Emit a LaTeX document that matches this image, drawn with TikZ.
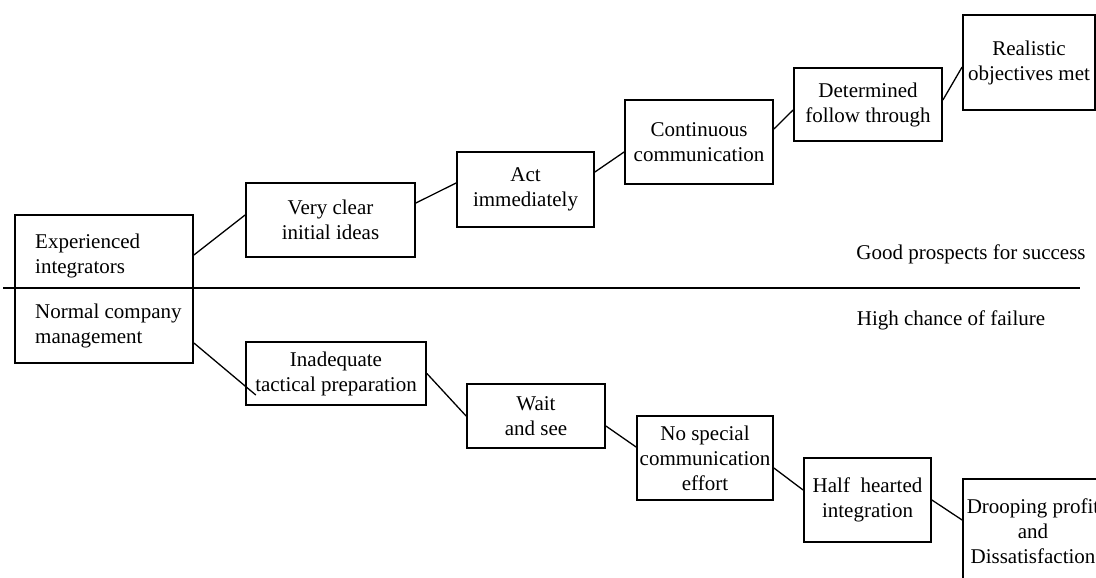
\documentclass[tikz,border=0pt]{standalone}
\usepackage{fontspec}
\setmainfont{Liberation Serif}
\begin{document}
\begin{tikzpicture}[x=1pt,y=-1pt]
      \tikzstyle{every node} = [font=\fontsize{21}{25}\selectfont]
      \tikzstyle{stage} = [draw, line width=1.8pt, align=center, inner sep=0pt]
      \tikzstyle{link} = [draw, line width=1.3pt]
      \useasboundingbox (0,0) rectangle (1096,578);
      \clip (0,0) rectangle (1096,578);

      % starting box, split by the dividing line
      \node[stage, minimum width=178pt, minimum height=148pt](lead) at (104,289) {};
      \node[anchor=west, align=left, inner sep=0pt](expd) at (35,256) {Experienced\\integrators};
      \node[anchor=west, align=left, inner sep=0pt](norm) at (35,326) {Normal company\\management};

      % upper route
      \node[stage, minimum width=169pt, minimum height=74pt](vc) at (330.5,220) {Very clear\\initial ideas};
      \node[stage, minimum width=137pt, minimum height=75pt](act) at (525.5,189.5) {Act\\immediately};
      \node[stage, minimum width=148pt, minimum height=84pt](cont) at (699,142) {Continuous\\communication};
      \node[stage, minimum width=148pt, minimum height=73pt](det) at (868,104.5) {Determined\\follow through};
      \node[stage, minimum width=132pt, minimum height=95pt](real) at (1029,62.5) {Realistic\\objectives met};

      % lower route
      \node[stage, minimum width=180pt, minimum height=63pt](tac) at (336,373.5) {Inadequate\\tactical preparation};
      \node[stage, minimum width=138pt, minimum height=64pt](wait) at (536,416) {Wait\\and see};
      \node[stage, minimum width=136pt, minimum height=84pt](nsc) at (705,458) {No special\\communication\\effort};
      \node[stage, minimum width=127pt, minimum height=84pt](half) at (867.5,500) {Half\ \ hearted\\integration};
      \node[stage, minimum width=140pt, minimum height=104pt](droop) at (1033,531) {\makebox[0pt]{Drooping profit}\\and\\\makebox[0pt]{Dissatisfaction}};

      \path[link]
      ([yshift=34pt]lead.east) edge ([yshift=5pt]vc.west)
      ([yshift=17pt]vc.east) edge ([yshift=6.5pt]act.west)
      ([yshift=17.5pt]act.east) edge ([yshift=-10pt]cont.west)
      ([yshift=13pt]cont.east) edge ([yshift=-5.5pt]det.west)
      ([yshift=4.5pt]det.east) edge ([yshift=-4.5pt]real.west);
      \path[link]
      ([yshift=-54pt]lead.east) edge[shorten >=-14pt] ([yshift=-12.5pt]tac.west)
      (tac.east) edge (wait.west)
      ([yshift=-10pt]wait.east) edge ([yshift=11pt]nsc.west)
      ([yshift=-10pt]nsc.east) edge ([yshift=10pt]half.west)
      (half.east) edge ([yshift=11pt]droop.west);

      % dividing line and outcomes
      \coordinate(divl) at (3,288);
      \coordinate(divr) at (1080,288);
      \draw[line width=1.5pt] (divl) -- (divr);
      \node(good) at (971,254) {Good prospects for success};
      \node(high) at (951,320) {High chance of failure};
    \end{tikzpicture}
\end{document}
